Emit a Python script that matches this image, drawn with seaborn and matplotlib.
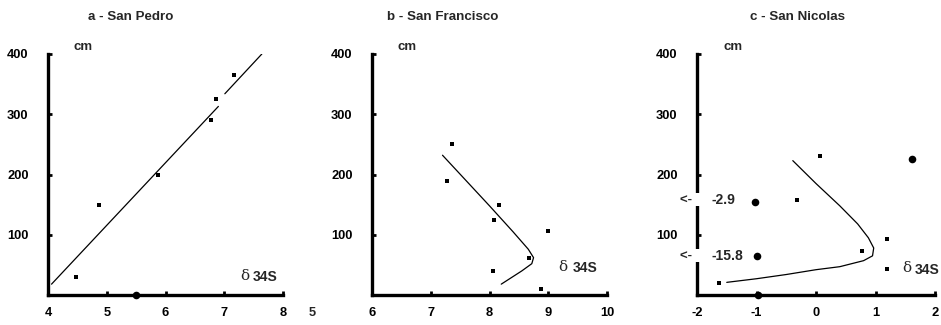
import matplotlib
matplotlib.use('Agg')
import matplotlib.pyplot as plt
import seaborn as sns

# panel a - San Pedro
a_x = [4.47, 4.87, 5.87, 6.77, 6.86, 7.17]
a_y = [30, 150, 200, 290, 325, 365]
a_big_x = [5.5]
a_big_y = [0]
a_line1_x = [4.06, 6.90]
a_line1_y = [18, 313]
a_line2_x = [7.01, 7.64]
a_line2_y = [334, 400]

# panel b - San Francisco
b_x = [7.36, 7.27, 8.17, 8.07, 8.99, 8.67, 8.06, 8.87]
b_y = [250, 190, 149, 125, 107, 62, 40, 10]
b_curve_x = [7.2, 7.6, 8.0, 8.4, 8.66, 8.75, 8.72, 8.55, 8.2]
b_curve_y = [232, 190, 148, 105, 76, 62, 52, 40, 18]

# panel c - San Nicolas
c_x = [0.07, -0.32, 1.19, 0.78, 1.19, -1.63]
c_y = [230, 158, 93, 73, 43, 20]
c_big_x = [1.62, -1.03, -1.0, -0.98]
c_big_y = [225, 155, 65, 0]
c_curve_x = [-0.39, 0.0, 0.4, 0.7, 0.88, 0.97, 0.95, 0.8, 0.4, 0.0, -0.5, -1.0, -1.5]
c_curve_y = [223, 185, 148, 118, 95, 78, 65, 57, 47, 42, 34, 27, 21]
c_notes = ['-2.9', '-15.8']
c_notes_y = [158, 65]

titles = ['a - San Pedro', 'b - San Francisco', 'c - San Nicolas']
xranges = [(4, 8), (6, 10), (-2, 2)]
yticks = [100, 200, 300, 400]

sns.set_style('ticks')
plt.rcParams['font.family'] = ['Liberation Sans', 'DejaVu Sans']
plt.rcParams['font.weight'] = 'bold'
plt.rcParams['axes.unicode_minus'] = False

fig = plt.figure(figsize=(9.41, 3.25), dpi=100)
W, H = 941, 325
boxes = [(48, 283), (372, 607), (697, 935)]
axes = []
for (l, r) in boxes:
    ax = fig.add_axes([l / W, 1 - 295 / H, (r - l) / W, (295 - 54) / H])
    axes.append(ax)

for ax, (x0, x1) in zip(axes, xranges):
    ax.set_xlim(x0, x1)
    ax.set_ylim(0, 400)
    ax.set_xticks(range(x0, x1 + 1))
    ax.set_yticks(yticks)
    for s in ['top', 'right']:
        ax.spines[s].set_visible(False)
    for s in ['left', 'bottom']:
        ax.spines[s].set_linewidth(2.4)
        ax.spines[s].set_color('black')
    ax.tick_params(axis='both', direction='in', length=3, width=2, labelsize=9.3, colors='black')
    ax.tick_params(axis='y', pad=14)
    ax.tick_params(axis='x', pad=9)
    for lab in ax.get_xticklabels() + ax.get_yticklabels():
        lab.set_fontweight('bold')
    ax.text(x0 + (x1 - x0) * 0.11, 402, 'cm', fontsize=9.5, fontweight='bold', va='bottom', ha='left')
    ax.patch.set_alpha(0)

# panel a
ax = axes[0]
sns.scatterplot(x=a_x, y=a_y, ax=ax, marker='s', s=10, color='black', linewidth=0, clip_on=False)
sns.scatterplot(x=a_big_x, y=a_big_y, ax=ax, marker='o', s=30, color='black', linewidth=0, clip_on=False, zorder=5)
sns.lineplot(x=a_line1_x, y=a_line1_y, ax=ax, color='black', lw=0.9, sort=False, estimator=None)
sns.lineplot(x=a_line2_x, y=a_line2_y, ax=ax, color='black', lw=0.9, sort=False, estimator=None)
ax.text(7.43, 32, '\u03b4', fontsize=11, family='DejaVu Serif', fontweight='normal', ha='right', va='center')
ax.text(7.49, 30, '34S', fontsize=10, fontweight='bold', ha='left', va='center')

# panel b
ax = axes[1]
sns.scatterplot(x=b_x, y=b_y, ax=ax, marker='s', s=10, color='black', linewidth=0, clip_on=False)
sns.lineplot(x=b_curve_x, y=b_curve_y, ax=ax, color='black', lw=0.9, sort=False, estimator=None)
ax.text(9.33, 46, '\u03b4', fontsize=11, family='DejaVu Serif', fontweight='normal', ha='right', va='center')
ax.text(9.42, 44, '34S', fontsize=10, fontweight='bold', ha='left', va='center')

# panel c
ax = axes[2]
sns.scatterplot(x=c_x, y=c_y, ax=ax, marker='s', s=10, color='black', linewidth=0, clip_on=False)
sns.scatterplot(x=c_big_x, y=c_big_y, ax=ax, marker='o', s=30, color='black', linewidth=0, clip_on=False, zorder=5)
sns.lineplot(x=c_curve_x, y=c_curve_y, ax=ax, color='black', lw=0.9, sort=False, estimator=None)
ax.text(1.45, 44, '\u03b4', fontsize=11, family='DejaVu Serif', fontweight='normal', ha='left', va='center')
ax.text(1.66, 42, '34S', fontsize=10, fontweight='bold', ha='left', va='center')
for note, ny in zip(c_notes, c_notes_y):
    ax.text(-1.96, ny, '<-  ', fontsize=9.5, fontweight='bold', ha='right', va='center', clip_on=False,
            zorder=6, bbox=dict(facecolor='white', edgecolor='none', pad=0.5))
    ax.text(-1.76, ny, note, fontsize=10, fontweight='bold', ha='left', va='center')

# titles
for title, cx in zip(titles, [131, 443, 797]):
    fig.text(cx / W, 1 - 17 / H, title, fontsize=9.6, fontweight='bold', ha='center', va='center')

# stray label between panels a and b
fig.text(312 / W, 1 - 313 / H, '5', fontsize=9.3, fontweight='bold', ha='center', va='center')

fig.savefig('out.png', dpi=100, facecolor='white')
